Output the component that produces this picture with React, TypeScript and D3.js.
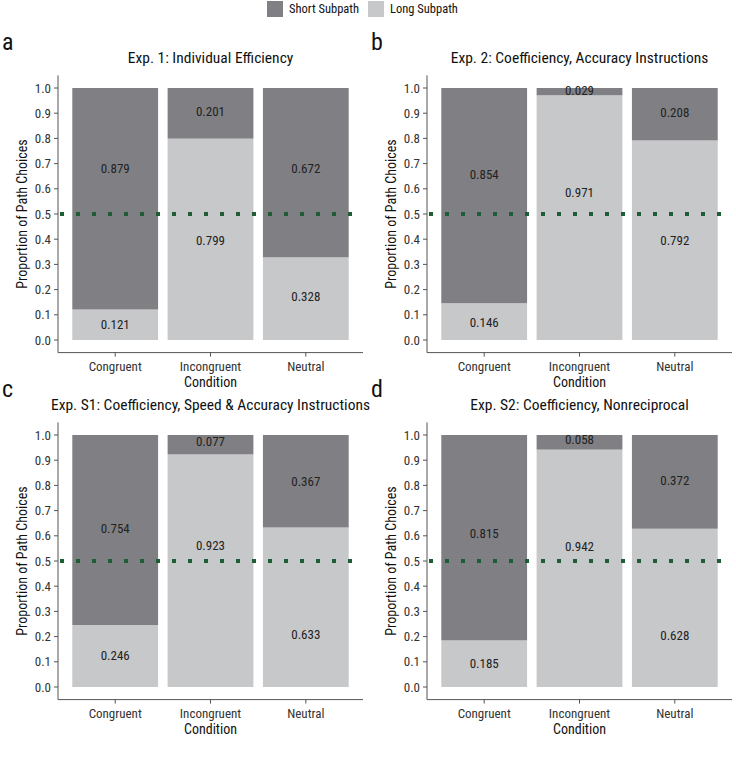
import React from "react";
import * as d3 from "d3";

const conditions = ["Congruent", "Incongruent", "Neutral"];
const panelLetters = ["a", "b", "c", "d"];
const panelTitles = [
  "Exp. 1: Individual Efficiency",
  "Exp. 2: Coefficiency, Accuracy Instructions",
  "Exp. S1: Coefficiency, Speed & Accuracy Instructions",
  "Exp. S2: Coefficiency, Nonreciprocal",
];
// proportion of long subpath choices per panel (Congruent, Incongruent, Neutral)
const longValues = [
  [0.121, 0.799, 0.328],
  [0.146, 0.971, 0.792],
  [0.246, 0.923, 0.633],
  [0.185, 0.942, 0.628],
];
const shortValues = [
  [0.879, 0.201, 0.672],
  [0.854, 0.029, 0.208],
  [0.754, 0.077, 0.367],
  [0.815, 0.058, 0.372],
];
// label positions (data units)
const shortLabelAt = [
  [0.679, 0.905, 0.679],
  [0.655, 0.992, 0.901],
  [0.631, 0.976, 0.817],
  [0.611, 0.984, 0.821],
];
const longLabelAt = [
  [0.063, 0.397, 0.171],
  [0.071, 0.587, 0.397],
  [0.127, 0.563, 0.21],
  [0.095, 0.556, 0.206],
];
const yTicks = [0, 0.1, 0.2, 0.3, 0.4, 0.5, 0.6, 0.7, 0.8, 0.9, 1.0];
const chanceLevel = 0.5;
const seriesNames = ["Short Subpath", "Long Subpath"];

const DARK = "#808084";
const LIGHT = "#c7c8ca";
const GREEN = "#1f5e34";
const AXIS = "#555";
const FONT = "'Liberation Sans Narrow', 'Roboto Condensed', 'Arial Narrow', Roboto, sans-serif";

function Panel({ idx, ox, oy }: { idx: number; ox: number; oy: number }) {
  const x = d3.scaleBand<string>().domain(conditions).range([58, 363]).paddingInner(0.1).paddingOuter(0.15);
  const y = d3.scaleLinear().domain([-0.05, 1.05]).range([352.6, 75.4]);
  const bw = x.bandwidth();
  return (
    <g transform={`translate(${ox},${oy})`}>
      <text x={2} y={50} fontSize={24} fill="#111">{panelLetters[idx]}</text>
      <text x={(58 + 363) / 2} y={63} fontSize={15.5} textAnchor="middle" fill="#111">{panelTitles[idx]}</text>
      {conditions.map((c, i) => (
        <g key={c}>
          <rect x={x(c)} width={bw} y={y(longValues[idx][i])} height={y(0) - y(longValues[idx][i])} fill={LIGHT} />
          <rect x={x(c)} width={bw} y={y(1)} height={y(longValues[idx][i]) - y(1)} fill={DARK} />
        </g>
      ))}
      {conditions.map((c, i) => (
        <g key={c + "l"} fontSize={13} fill="#222" textAnchor="middle">
          <text x={x(c)! + bw / 2} y={y(shortLabelAt[idx][i])} dy="0.35em">{shortValues[idx][i].toFixed(3)}</text>
          <text x={x(c)! + bw / 2} y={y(longLabelAt[idx][i])} dy="0.35em">{longValues[idx][i].toFixed(3)}</text>
        </g>
      ))}
      <line x1={58} x2={363} y1={y(chanceLevel)} y2={y(chanceLevel)} stroke={GREEN} strokeWidth={4} strokeDasharray="4 12" strokeDashoffset={-2} />
      {/* y axis */}
      <line x1={58} x2={58} y1={y(1.05)} y2={y(-0.05)} stroke={AXIS} strokeWidth={1} />
      {yTicks.map((t) => (
        <g key={t}>
          <line x1={54} x2={58} y1={y(t)} y2={y(t)} stroke={AXIS} />
          <text x={51} y={y(t)} dy="0.35em" textAnchor="end" fontSize={13} fill="#333">{t.toFixed(1)}</text>
        </g>
      ))}
      {/* x axis */}
      <line x1={58} x2={363} y1={y(-0.05)} y2={y(-0.05)} stroke={AXIS} strokeWidth={1} />
      {conditions.map((c) => (
        <g key={c + "t"}>
          <line x1={x(c)! + bw / 2} x2={x(c)! + bw / 2} y1={y(-0.05)} y2={y(-0.05) + 4} stroke={AXIS} />
          <text x={x(c)! + bw / 2} y={366} dy="0.35em" textAnchor="middle" fontSize={13} fill="#333">{c}</text>
        </g>
      ))}
      <text x={(58 + 363) / 2} y={387} textAnchor="middle" fontSize={14} fill="#111">Condition</text>
      <text transform={`translate(27,${y(0.5)}) rotate(-90)`} textAnchor="middle" fontSize={14} fill="#111">Proportion of Path Choices</text>
    </g>
  );
}

export default function App() {
  return (
    <svg width={736} height={766} style={{ position: "absolute", left: 0, top: 0 }} fontFamily={FONT}>
      <rect width={736} height={766} fill="white" />
      <g>
        <rect x={267} y={1} width={16} height={16} fill={DARK} />
        <text x={289} y={9} dy="0.35em" fontSize={12.5} fill="#111">{seriesNames[0]}</text>
        <rect x={368} y={1} width={16} height={16} fill={LIGHT} />
        <text x={390} y={9} dy="0.35em" fontSize={12.5} fill="#111">{seriesNames[1]}</text>
      </g>
      <Panel idx={0} ox={0} oy={0} />
      <Panel idx={1} ox={369} oy={0} />
      <Panel idx={2} ox={0} oy={347} />
      <Panel idx={3} ox={369} oy={347} />
    </svg>
  );
}
